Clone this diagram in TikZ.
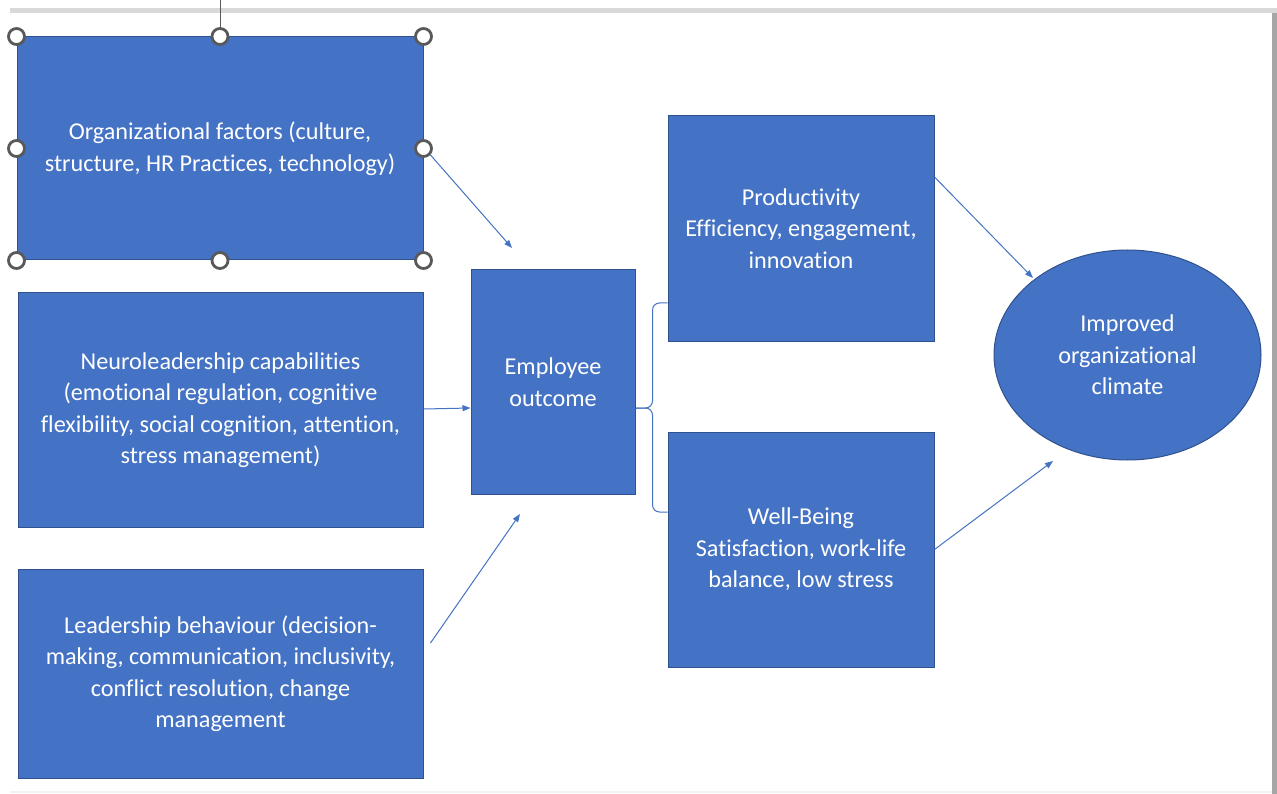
\documentclass[tikz,border=0pt]{standalone}
\usepackage{fontspec}
\setmainfont{Carlito}[Ligatures=CommonOff]
\usetikzlibrary{arrows.meta,shapes.geometric}
\definecolor{boxfill}{HTML}{4472C4}
\definecolor{boxline}{HTML}{2F528F}
\definecolor{handle}{HTML}{595959}
\begin{document}
\begin{tikzpicture}[x=1pt,y=-1pt,
  box/.style={draw=boxline,line width=1pt,fill=boxfill,text=white,align=center,
    font=\fontsize{24.2}{31.5}\selectfont,inner sep=0pt},
  link/.style={draw=boxfill,line width=1pt,-{Triangle[length=8pt,width=6pt]}},
  grip/.style={circle,draw=handle,line width=2.8pt,fill=white,minimum size=16pt,inner sep=0pt}]
\useasboundingbox (0,0) rectangle (1277,794);
\fill[white] (0,0) rectangle (1277,794);
% window frame
\fill[black!15] (10,8) rectangle (1277,13);
\fill[black!35] (1272,13) rectangle (1277,794);
\fill[black!5] (10,791) rectangle (1272,793);

% input boxes
\node[box,minimum width=406pt,minimum height=223pt] (org) at (220,148.5)
  {Organizational factors (culture,\\structure, HR Practices, technology)};
\node[box,minimum width=405pt,minimum height=234pt] (neuro) at (220.5,410)
  {Neuroleadership capabilities\\(emotional regulation, cognitive\\flexibility, social cognition, attention,\\stress management)};
\node[box,minimum width=405pt,minimum height=209pt] (lead) at (220.5,673.5)
  {Leadership behaviour (decision-\\making, communication, inclusivity,\\conflict resolution, change\\management};

% central and outcome boxes
\node[box,minimum width=164pt,minimum height=224pt] (emp) at (553,382)
  {Employee\\outcome};
\node[box,minimum width=266pt,minimum height=225pt] (prod) at (801,228.5)
  {Productivity\\Efficiency, engagement,\\innovation};
\node[box,minimum width=266pt,minimum height=235pt] (well) at (801,549.5)
  {Well-Being\\Satisfaction, work-life\\balance, low stress};
\node[box,ellipse,minimum width=267pt,minimum height=210pt] (clim) at (1127.5,355)
  {Improved\\organizational\\climate};

% arrow end points
\coordinate (orgtip) at (512,248);
\coordinate (leadtip) at (520,514);
\coordinate (prodtip) at (1033,278);
\coordinate (welltip) at (1053,461);

\draw[link] ([xshift=7pt,yshift=-6.5pt]org.east) -- (orgtip);
\draw[link] ([yshift=1pt]neuro.east) -- ([yshift=-26pt]emp.west);
\draw[link] ([xshift=7pt,yshift=30.5pt]lead.east) -- (leadtip);
\draw[link] ([yshift=51.5pt]prod.east) -- (prodtip);
\draw[link] (well.east) -- (welltip);

% brace splitting the employee outcome
\draw[boxfill,line width=1pt,rounded corners=7pt]
  ([yshift=-26pt]emp.east) -- ++(17,0) |- ([yshift=-74.5pt]prod.west);
\draw[boxfill,line width=1pt,rounded corners=7pt]
  ([yshift=-26pt]emp.east) -- ++(17,0) |- ([yshift=37.5pt]well.west);

% selection handles on the first box
\draw[handle,line width=1pt] (org.north) -- ++(0,-37);
\foreach \a in {north west,north,north east,west,east,south west,south,south east}
  \node[grip] at (org.\a) {};
\end{tikzpicture}
\end{document}
